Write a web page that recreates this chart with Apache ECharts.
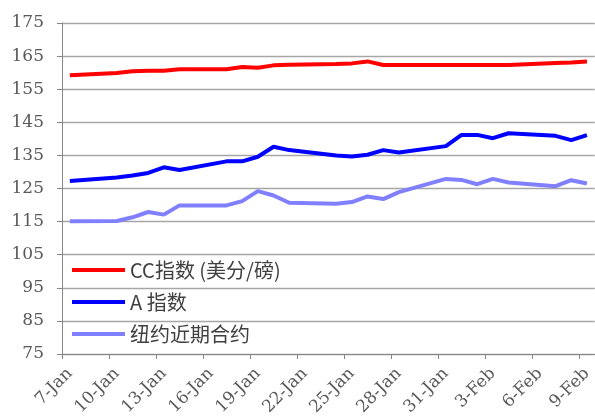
<!DOCTYPE html>
<html>
<head>
<meta charset="utf-8">
<script src="https://cdn.jsdelivr.net/npm/echarts@6/dist/echarts.min.js"></script>
<style>html,body{margin:0;padding:0;background:#fff}#c{width:595px;height:419px}</style>
</head>
<body>
<div id="c"></div>
<script>
const categories = ["7-Jan","8-Jan","9-Jan","10-Jan","11-Jan","12-Jan","13-Jan","14-Jan","15-Jan","16-Jan",
  "17-Jan","18-Jan","19-Jan","20-Jan","21-Jan","22-Jan","23-Jan","24-Jan","25-Jan","26-Jan",
  "27-Jan","28-Jan","29-Jan","30-Jan","31-Jan","1-Feb","2-Feb","3-Feb","4-Feb","5-Feb",
  "6-Feb","7-Feb","8-Feb","9-Feb"];
const ccIndex = [159.2,null,null,159.9,160.4,160.6,160.6,161.0,null,null,
  161.0,161.7,161.5,162.2,162.4,null,null,162.6,162.8,163.4,
  162.3,162.3,null,null,162.3,162.3,162.3,162.3,162.3,null,
  null,162.9,163.1,163.4];
const aIndex = [127.3,null,null,128.3,128.9,129.7,131.4,130.6,null,null,
  133.2,133.2,134.6,137.6,136.6,null,null,135.0,134.7,135.2,
  136.6,135.9,null,null,137.8,141.2,141.2,140.2,141.7,null,
  null,140.9,139.6,141.1];
const nyNearby = [115.1,null,null,115.2,116.3,117.9,117.1,119.9,null,null,
  119.9,121.2,124.2,122.9,120.7,null,null,120.4,120.9,122.6,
  121.8,123.9,null,null,127.9,127.6,126.3,127.9,126.8,null,
  null,125.7,127.5,126.5];
const seriesNames = ["CC指数 (美分/磅)", "A 指数", "纽约近期合约"];
const seriesColors = ["#FF0000", "#0000FF", "#8080FF"];
const seriesData = [ccIndex, aIndex, nyNearby];

const chart = echarts.init(document.getElementById('c'), null, {renderer: 'canvas'});
const serifStyle = {fontSize: 17, color: '#595959', fontFamily: 'DejaVu Serif'};
chart.setOption({
  animation: false,
  backgroundColor: '#fff',
  grid: {left: 62, top: 23, width: 536, height: 331, containLabel: false},
  legend: {
    orient: 'vertical',
    left: 72, top: 260,
    padding: 0,
    itemWidth: 53, itemHeight: 4, itemGap: 12,
    icon: 'rect',
    textStyle: {fontSize: 20, lineHeight: 20, color: '#404040', fontFamily: 'Noto Sans CJK SC'},
    data: seriesNames
  },
  xAxis: {
    type: 'category',
    data: categories,
    boundaryGap: true,
    axisLine: {lineStyle: {color: '#868686', width: 1}},
    axisTick: {show: true, interval: 2, length: 5, lineStyle: {color: '#868686'}},
    axisLabel: Object.assign({interval: 2, rotate: 45, margin: 17}, serifStyle),
    splitLine: {show: false}
  },
  yAxis: {
    type: 'value',
    min: 75, max: 175, interval: 10,
    axisLine: {show: true, lineStyle: {color: '#868686', width: 1}},
    axisTick: {show: true, length: 5, lineStyle: {color: '#868686'}},
    axisLabel: Object.assign({margin: 18}, serifStyle),
    splitLine: {show: true, lineStyle: {color: '#A6A6A6', width: 1.3}}
  },
  series: seriesData.map((d, i) => ({
    name: seriesNames[i],
    type: 'line',
    data: d,
    connectNulls: true,
    symbol: 'none',
    itemStyle: {color: seriesColors[i]},
    lineStyle: {color: seriesColors[i], width: 4},
    z: 3 - i
  }))
});
</script>
</body>
</html>
